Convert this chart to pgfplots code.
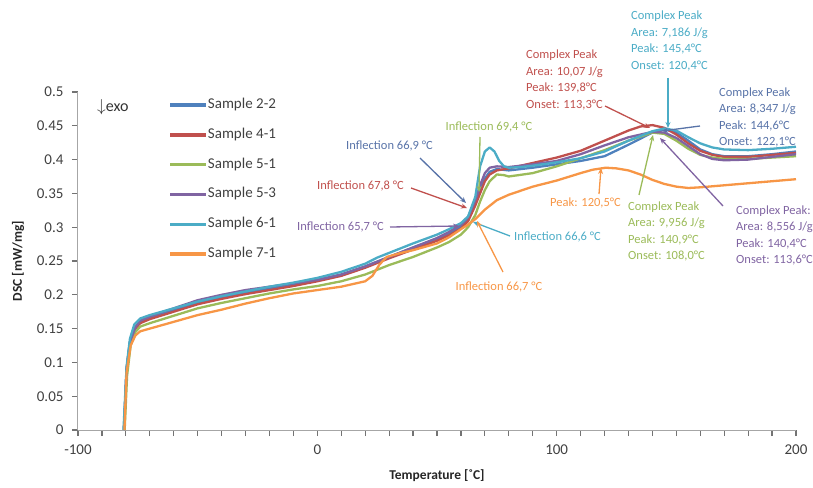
\documentclass[border=0pt]{standalone}
\usepackage{pgfplots}
\pgfplotsset{compat=1.18}
\usepackage{fontspec}
\setmainfont{Carlito}
\usetikzlibrary{arrows.meta}
\definecolor{cB}{HTML}{4F81BD}
\definecolor{cR}{HTML}{C0504D}
\definecolor{cG}{HTML}{9BBB59}
\definecolor{cP}{HTML}{8064A2}
\definecolor{cC}{HTML}{4BACC6}
\definecolor{cO}{HTML}{F79646}
\definecolor{tB}{HTML}{5873A8}
\newcommand\ann{\fontsize{12.5}{16.4}\selectfont}
\begin{document}
\begin{tikzpicture}
\begin{scope}[x=1pt,y=1pt,shift={(-78pt,-57pt)}]
\path[use as bounding box] (0,0) rectangle (813,487);
\end{scope}
\begin{axis}[
  anchor=south west, scale only axis,
  width=718pt, height=338pt,
  xmin=-100, xmax=200, ymin=0, ymax=0.5,
  axis x line*=bottom, axis y line*=left,
  axis line style={-, draw=black!35, line width=1pt},
  xtick={-100,0,100,200},
  minor xtick={-90,-80,-70,-60,-50,-40,-30,-20,-10,10,20,30,40,50,60,70,80,90,110,120,130,140,150,160,170,180,190},
  ytick={0,0.05,0.1,0.15,0.2,0.25,0.3,0.35,0.4,0.45,0.5},
  yticklabels={0,0.05,0.1,0.15,0.2,0.25,0.3,0.35,0.4,0.45,0.5},
  xticklabels={-100,0,100,200},
  xtick align=outside, ytick align=outside,
  major tick length=6pt, minor tick length=6pt,
  major tick style={draw=black!55, line width=1.2pt},
  minor tick style={draw=black!55, line width=1.2pt},
  ticklabel style={font=\fontsize{15}{18}\selectfont, text=black!75},
  xticklabel style={yshift=-5pt},
  yticklabel style={xshift=-5pt},
  /pgf/number format/assume math mode=true,
  every axis y label/.style={at={(axis description cs:-0.0836,0.5)}, rotate=90, anchor=center},
  every axis x label/.style={at={(axis description cs:0.5,-0.136)}, anchor=center},
  xlabel={\bfseries\fontsize{13.5}{16}\selectfont Temperature [˚C]},
  ylabel={\bfseries\fontsize{13.5}{16}\selectfont DSC [mW/mg]},
  label style={text=black!85},
  legend style={at={(axis description cs:0.1215,0.99)}, anchor=north west, draw=none, fill=none,
    font=\fontsize{15}{18}\selectfont, text=black!75, row sep=14.8pt,
    nodes={inner sep=0pt, text height=11pt, text depth=4pt}},
  legend cell align=left,
  legend image code/.code={\draw[#1, line width=3.5pt] (0pt,0pt) -- (36pt,0pt);},
  every axis plot/.append style={line width=2.3pt, line join=round},
]
% Sample 2-2
\addplot[cB] coordinates {(-80.8,0) (-79.7,0.09) (-78.3,0.13) (-76,0.152) (-74,0.160) (-70,0.166) (-60,0.177) (-50,0.188) (-40,0.196) (-30,0.203) (-20,0.209) (-10,0.215) (0,0.222) (10,0.230) (20,0.242) (30,0.256) (40,0.270) (50,0.283) (55,0.291) (60,0.301) (63,0.311) (66,0.335) (68,0.355) (70,0.372) (72,0.382) (75,0.386) (80,0.384) (90,0.388) (100,0.393) (110,0.398) (120,0.405) (130,0.422) (140,0.440) (145,0.445) (150,0.440) (155,0.428) (160,0.415) (165,0.408) (170,0.405) (180,0.405) (190,0.408) (200,0.412)};
\addlegendentry{Sample 2-2}
% Sample 4-1
\addplot[cR] coordinates {(-80.8,0) (-79.7,0.09) (-78.3,0.13) (-76,0.150) (-74,0.158) (-70,0.164) (-60,0.175) (-50,0.186) (-40,0.194) (-30,0.201) (-20,0.207) (-10,0.213) (0,0.220) (10,0.228) (20,0.240) (30,0.254) (40,0.267) (50,0.280) (55,0.288) (60,0.298) (63,0.309) (66,0.332) (68,0.350) (70,0.368) (72,0.378) (75,0.384) (80,0.387) (90,0.395) (100,0.403) (110,0.413) (120,0.428) (130,0.443) (135,0.449) (140,0.451) (145,0.447) (150,0.437) (155,0.424) (160,0.413) (165,0.407) (170,0.404) (180,0.404) (190,0.407) (200,0.410)};
\addlegendentry{Sample 4-1}
% Sample 5-1
\addplot[cG] coordinates {(-80.5,0) (-79.5,0.08) (-78,0.125) (-76,0.145) (-74,0.153) (-70,0.158) (-60,0.169) (-50,0.180) (-40,0.188) (-30,0.195) (-20,0.202) (-10,0.208) (0,0.213) (10,0.220) (20,0.230) (30,0.244) (40,0.256) (50,0.270) (55,0.278) (60,0.289) (63,0.300) (66,0.318) (68,0.338) (70,0.355) (72,0.368) (75,0.378) (78,0.377) (80,0.375) (90,0.380) (100,0.390) (110,0.402) (120,0.414) (130,0.428) (140,0.440) (145,0.438) (150,0.428) (155,0.416) (160,0.407) (165,0.403) (170,0.401) (180,0.401) (190,0.403) (200,0.405)};
\addlegendentry{Sample 5-1}
% Sample 5-3
\addplot[cP] coordinates {(-80.8,0) (-79.7,0.09) (-78.3,0.13) (-76,0.152) (-74,0.162) (-70,0.168) (-60,0.180) (-50,0.192) (-40,0.200) (-30,0.207) (-20,0.212) (-10,0.217) (0,0.222) (10,0.230) (20,0.242) (30,0.256) (40,0.270) (50,0.284) (55,0.293) (60,0.304) (63,0.315) (66,0.340) (68,0.362) (70,0.380) (72,0.388) (75,0.390) (80,0.389) (90,0.393) (100,0.398) (110,0.408) (120,0.421) (130,0.433) (140,0.441) (145,0.440) (150,0.432) (155,0.420) (160,0.408) (165,0.401) (170,0.399) (180,0.400) (190,0.404) (200,0.408)};
\addlegendentry{Sample 5-3}
% Sample 6-1
\addplot[cC] coordinates {(-81,0) (-79.7,0.094) (-78.3,0.135) (-76.5,0.156) (-74,0.165) (-70,0.170) (-60,0.180) (-50,0.190) (-40,0.198) (-30,0.205) (-20,0.212) (-10,0.218) (0,0.225) (10,0.234) (20,0.246) (25,0.255) (30,0.262) (40,0.276) (50,0.289) (55,0.297) (60,0.306) (63,0.316) (66,0.345) (68,0.390) (70,0.412) (72,0.418) (74,0.412) (76,0.398) (78,0.390) (80,0.388) (85,0.389) (90,0.391) (100,0.396) (110,0.402) (120,0.412) (130,0.428) (140,0.442) (145,0.446) (150,0.443) (155,0.433) (160,0.424) (165,0.418) (170,0.415) (180,0.414) (190,0.416) (200,0.419)};
\addlegendentry{Sample 6-1}
% Sample 7-1
\addplot[cO] coordinates {(-80.6,0) (-79.7,0.085) (-78,0.125) (-76,0.140) (-74,0.146) (-70,0.150) (-60,0.160) (-50,0.170) (-40,0.178) (-30,0.187) (-20,0.195) (-10,0.202) (0,0.207) (10,0.212) (20,0.220) (23,0.228) (26,0.245) (29,0.256) (35,0.262) (40,0.266) (50,0.276) (55,0.285) (60,0.297) (63,0.304) (66,0.312) (70,0.326) (75,0.340) (80,0.348) (90,0.360) (100,0.369) (110,0.380) (115,0.385) (120.5,0.388) (125,0.387) (130,0.384) (135,0.378) (140,0.370) (145,0.364) (150,0.360) (155,0.358) (160,0.359) (170,0.362) (180,0.365) (190,0.368) (200,0.371)};
\addlegendentry{Sample 7-1}
\end{axis}
% annotations
\begin{scope}[x=1pt,y=1pt,shift={(-78pt,-57pt)}]
\node[anchor=west, inner sep=0, font=\fontsize{16}{18}\selectfont, text=black!80] at (97,380) {$\downarrow$exo};
\tikzset{ar/.style={line width=1.3pt, -{Stealth[length=6pt,width=5pt]}}}
\node[anchor=west, align=left, inner sep=0, font=\ann, text=cR] at (526,407) {Complex Peak\\Area: 10,07 J/g\\Peak: 139,8°C\\Onset: 113,3°C};
\draw[ar, cR] (605,381) -- (650,359);
\node[anchor=west, align=left, inner sep=0, font=\ann, text=cC] at (631,446) {Complex Peak\\Area: 7,186 J/g\\Peak: 145,4°C\\Onset: 120,4°C};
\draw[ar, cC] (668,409) -- (668,359);
\node[anchor=west, align=left, inner sep=0, font=\ann, text=tB] at (719,369.5) {Complex Peak\\Area: 8,347 J/g\\Peak: 144,6°C\\Onset: 122,1°C};
\draw[ar, tB] (700,361) -- (662,356);
\node[anchor=west, align=left, inner sep=0, font=\ann, text=cG] at (628,255.5) {Complex Peak\\Area: 9,956 J/g\\Peak: 140,9°C\\Onset: 108,0°C};
\draw[ar, cG] (639,292) -- (653,352);
\node[anchor=west, align=left, inner sep=0, font=\ann, text=cP] at (736,251.5) {Complex Peak:\\Area: 8,556 J/g\\Peak: 140,4°C\\Onset: 113,6°C};
\draw[ar, cP] (723,281) -- (660,349);
\node[anchor=east, inner sep=0, font=\ann, text=cO] at (621,284) {Peak: 120,5°C};
\draw[ar, cO] (599,293) -- (601,319);
\node[inner sep=0, font=\ann, text=cG] at (489,360) {Inflection 69,4 °C};
\draw[ar, cG] (480,350) -- (479,295);
\node[inner sep=0, font=\ann, text=tB] at (389.5,341) {Inflection 66,9 °C};
\draw[ar, tB] (420,329) -- (466,284);
\node[inner sep=0, font=\ann, text=cR] at (360.5,301) {Inflection 67,8 °C};
\draw[ar, cR] (411,299) -- (467,279);
\node[inner sep=0, font=\ann, text=cP] at (340.5,260) {Inflection 65,7 °C};
\draw[ar, cP] (390,260) -- (459,261);
\node[inner sep=0, font=\ann, text=cC] at (557.5,250) {Inflection 66,6 °C};
\draw[ar, cC] (510,251) -- (473,265);
\node[inner sep=0, font=\ann, text=cO] at (499,200) {Inflection 66,7 °C};
\draw[ar, cO] (503,215) -- (477,266);
\end{scope}
\end{tikzpicture}
\end{document}
